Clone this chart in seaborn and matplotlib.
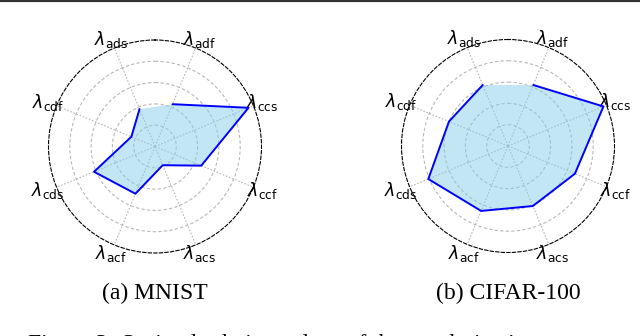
import numpy as np
import pandas as pd
import matplotlib
matplotlib.use("Agg")
import matplotlib.pyplot as plt
from matplotlib.lines import Line2D
import seaborn as sns

# ---- data ----
categories = ["adf", "ccs", "ccf", "acs", "acf", "cds", "cdf", "ads"]
mnist_values = [0.43, 0.95, 0.47, 0.19, 0.48, 0.62, 0.24, 0.38]
cifar_values = [0.62, 0.97, 0.68, 0.61, 0.66, 0.81, 0.60, 0.62]
subcaptions = ["(a) MNIST", "(b) CIFAR-100"]
caption = "Figure 3: Optimal relative values of the regularization terms."

sns.set_theme(style="white")
plt.rcParams["font.family"] = ["DejaVu Sans"]
plt.rcParams["mathtext.fontset"] = "dejavusans"

fig = plt.figure(figsize=(6.4, 3.36), dpi=100)

W, H = 640.0, 336.0
R = 106.5
centers = [(155.0, 146.5), (508.0, 146.0)]

n = len(categories)
angles = [(k + 0.5) * np.pi / 4 for k in range(n)]
labels = [r"$\lambda_{\mathrm{%s}}$" % c for c in categories]

for (cx, cy), vals, sub in zip(centers, [mnist_values, cifar_values], subcaptions):
    ax = fig.add_axes([(cx - R) / W, (H - cy - R) / H, 2 * R / W, 2 * R / H],
                      projection="polar")
    ax.set_theta_offset(np.pi / 2)
    ax.set_theta_direction(-1)
    df = pd.DataFrame({"theta": angles + [angles[0]], "r": vals + [vals[0]]})
    ax.fill(df["theta"], df["r"], color="skyblue", alpha=0.5, zorder=2, lw=0)
    sns.lineplot(data=df, x="theta", y="r", sort=False, ax=ax, color="blue",
                 lw=1.4, zorder=3)
    ax.set_ylim(0, 1.0)
    ax.set_yticks([0.2, 0.4, 0.6, 0.8])
    ax.set_yticklabels([])
    ax.set_xticks(angles)
    ax.set_xticklabels(labels, fontsize=12.5, color="black")
    ax.tick_params(axis="x", pad=-6)
    ax.set_xlabel("")
    ax.set_ylabel("")
    ax.yaxis.grid(True, color="0.72", linestyle=(0, (3, 2)), lw=0.8)
    ax.xaxis.grid(True, color="0.72", linestyle=(0, (1.5, 1.5)), lw=0.8)
    ax.spines["polar"].set_linestyle((0, (3, 2)))
    ax.spines["polar"].set_linewidth(0.8)
    ax.spines["polar"].set_color("black")
    ax.set_facecolor("white")
    fig.text(cx / W, 1 - 299 / H, sub, ha="center", va="baseline",
             family="Liberation Serif", fontsize=17, color="black")

fig.add_artist(Line2D([0, 1], [1 - 1.2 / H, 1 - 1.2 / H], color="#333333", lw=1.6))
fig.text(28 / W, 1 - 350 / H, caption, ha="left", va="baseline",
         family="Liberation Serif", fontsize=17, color="black")

fig.savefig("out.png", dpi=100, facecolor="white")
